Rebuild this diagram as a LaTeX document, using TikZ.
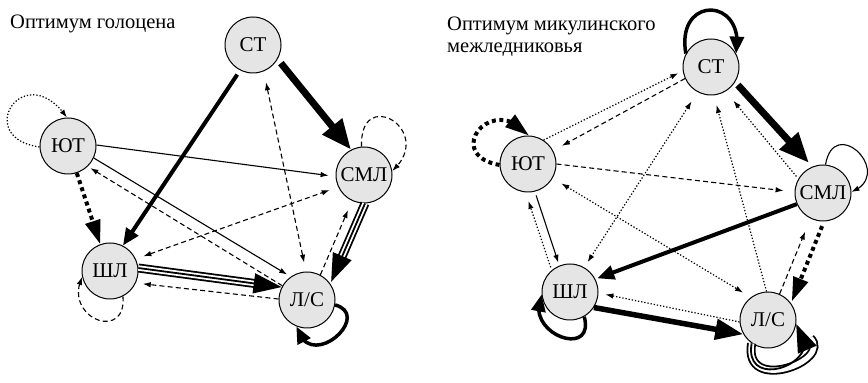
\documentclass[tikz,border=0pt]{standalone}
\usepackage{fontspec}
\setmainfont{Liberation Serif}
\usetikzlibrary{arrows.meta,bending}

\tikzset{
  x=1pt, y=1pt,
  species/.style={circle, draw, line width=1pt, fill=black!10, minimum size=56pt,
    inner sep=0pt, font=\fontsize{21}{23}\selectfont},
  caption/.style={anchor=base west, inner sep=0pt, font=\fontsize{20.5}{23}\selectfont},
  tipS/.tip={Latex[length=8pt,width=5.5pt]},
  tipM/.tip={Triangle[length=17pt,width=14pt]},
  tipD/.tip={Triangle[length=24pt,width=15pt]},
  tipT/.tip={Triangle[length=28pt,width=20pt]},
  tipX/.tip={Triangle[length=30pt,width=24pt]},
  solidlink/.style={line width=1.1pt},
  dashlink/.style={line width=1.1pt, dash pattern=on 5pt off 3.2pt},
  dotlink/.style={line width=1.2pt, dash pattern=on 1.3pt off 1.9pt},
  bolddots/.style={line width=4pt, dash pattern=on 4pt off 3.5pt},
  boldlink/.style={line width=4pt},
  heavylink/.style={line width=7pt},
  tripleouter/.style={line width=1.8pt, double=white, double distance=5.4pt},
  triplemid/.style={line width=1.8pt, -tipT},
}

\begin{document}
\begin{tikzpicture}
\useasboundingbox (0,0) rectangle (868,383);

% ---------- Holocene optimum ----------
\node[caption] (cap1) at (10,354) {Оптимум голоцена};

\node[species] (LYT)  at (68,237)  {ЮТ};
\node[species] (LST)  at (253,338) {СТ};
\node[species] (LSML) at (364,208) {СМЛ};
\node[species] (LSHL) at (110,112) {ШЛ};
\node[species] (LLS)  at (307,83)  {Л/С};

% self-loops
\draw[dotlink, -tipS] (LYT.182) to[out=172,in=125,out distance=68pt,in distance=75pt] (LYT.92);
\draw[dashlink, -tipS] (LSML.95) to[out=92,in=42,out distance=62pt,in distance=60pt] (LSML.8);
\draw[dashlink, -tipS] (LSHL.-63) to[out=-85,in=-115,out distance=46pt,in distance=46pt] (LSHL.192);
\draw[line width=3.5pt, -tipM] (LLS.-10) to[out=-15,in=-75,out distance=40pt,in distance=50pt] (LLS.-112);

% strong links
\draw[heavylink, -tipX, shorten <=5pt] (LST.-30) -- (LSML.117);
\draw[boldlink, -tipM, shorten <=5pt] (LST.-117) -- (LSHL.63);
\draw[bolddots, -tipD] (LYT.-72) -- (LSHL.110);

% triple links
\draw[tripleouter, shorten >=24pt] (LSML.-88) -- (LLS.35);
\draw[triplemid, shorten >=2pt] (LSML.-88) -- (LLS.35);
\draw[tripleouter, shorten >=24pt] (LSHL.6) -- (LLS.153);
\draw[triplemid] (LSHL.6) -- (LLS.153);

% weak links
\draw[solidlink, -tipS, shorten >=7pt] (LYT.2) -- (LSML.183);
\draw[solidlink, -tipS, shorten >=4pt] (LYT.-25) -- (LLS.125);
\draw[dashlink, -tipS, shorten >=3pt] (LLS.150) -- (LYT.-46);
\draw[dashlink, tipS-tipS, shorten <=11pt, shorten >=9pt] (LST.-68) -- (LLS.92);
\draw[dashlink, tipS-tipS, shorten <=8pt, shorten >=9pt] (LSHL.25) -- (LSML.205);
\draw[dashlink, -tipS, shorten >=10pt] (LLS.62) -- (LSML.-115);
\draw[dashlink, -tipS, shorten >=7pt] (LLS.178) -- (LSHL.-25);

% ---------- Mikulino interglacial optimum ----------
\node[caption] (cap2a) at (447,352) {Оптимум микулинского};
\node[caption] (cap2b) at (447,330) {межледниковья};

\node[species] (RYT)  at (528,219) {ЮТ};
\node[species] (RST)  at (711,316) {СТ};
\node[species] (RSML) at (823,190) {СМЛ};
\node[species] (RSHL) at (570,91)  {ШЛ};
\node[species] (RLS)  at (768,63)  {Л/С};

% self-loops
\draw[bolddots, -tipD] (RYT.182) to[out=170,in=130,out distance=58pt,in distance=58pt] (RYT.88);
\draw[line width=3.5pt, -tipM] (RST.152) to[out=100,in=80,out distance=60pt,in distance=58pt] (RST.28);
\draw[solidlink, -tipS] (RSML.85) to[out=80,in=22,out distance=52pt,in distance=48pt] (RSML.2);
\draw[line width=3.5pt, -tipM] (RSHL.-60) to[out=-75,in=-115,out distance=44pt,in distance=44pt] (RSHL.185);
\draw[tripleouter, shorten >=20pt] (RLS.-125) to[out=-100,in=-45,out distance=52pt,in distance=52pt] (RLS.-8);
\draw[triplemid] (RLS.-125) to[out=-100,in=-45,out distance=52pt,in distance=52pt] (RLS.-8);

% strong links
\draw[heavylink, -tipX, shorten <=4pt, shorten >=5pt] (RST.-32) -- (RSML.112);
\draw[boldlink, -tipM, shorten >=2pt] (RSML.203) -- (RSHL.27);
\draw[line width=5.5pt, -tipT] (RSHL.-33) -- (RLS.210);
\draw[bolddots, -tipD, shorten <=5pt, shorten >=2pt] (RSML.-88) -- (RLS.36);

% weak links
\draw[dotlink, -tipS, shorten >=5pt] (RYT.57) -- (RST.188);
\draw[dashlink, -tipS, shorten >=10pt] (RST.204) -- (RYT.28);
\draw[dashlink, -tipS, shorten >=11pt] (RYT.0) -- (RSML.178);
\draw[dotlink, tipS-tipS, shorten <=10pt, shorten >=9pt] (RYT.-30) -- (RLS.127);
\draw[solidlink, -tipS, shorten <=4pt, shorten >=3pt] (RYT.-76) -- (RSHL.112);
\draw[dotlink, -tipS, shorten <=3pt, shorten >=9pt] (RSHL.130) -- (RYT.-95);
\draw[dotlink, tipS-tipS, shorten <=11pt, shorten >=6pt] (RST.-118) -- (RSHL.60);
\draw[dotlink, -tipS, shorten >=10pt] (RLS.93) -- (RST.-84);
\draw[dotlink, -tipS, shorten <=3pt, shorten >=12pt] (RSML.150) -- (RST.-59);
\draw[dashlink, -tipS, shorten >=14pt] (RLS.66) -- (RSML.-116);
\draw[dotlink, -tipS, shorten >=7pt] (RLS.184) -- (RSHL.-2);

\end{tikzpicture}
\end{document}
